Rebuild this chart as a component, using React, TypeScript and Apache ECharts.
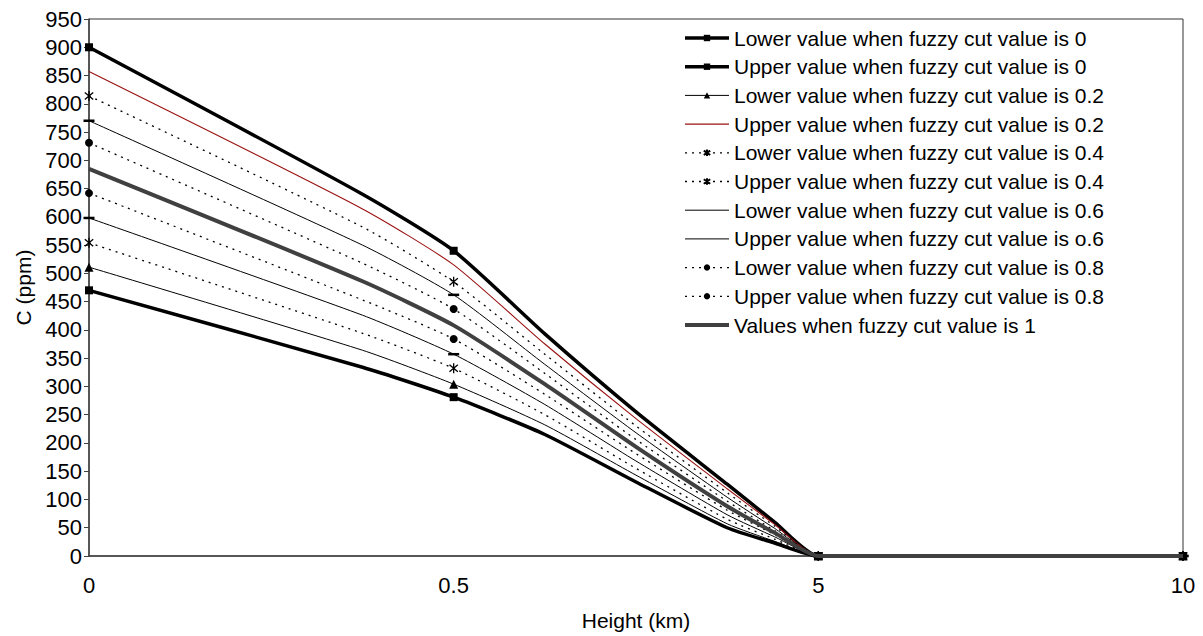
import React, { useEffect, useRef } from "react";
import * as echarts from "echarts";

// x tick labels (evenly spaced, as in the reference)
const X_LABELS = ["0", "0.5", "5", "10"];
// positions along the axis (in tick index units) where values were read
const X_POS = [0, 0.75, 1, 1.25, 1.5, 1.75, 1.88, 2, 3];
// which readings carry a marker (the real heights 0, 0.5, 5, 10)
const MARKED = [true, false, true, false, false, false, false, true, true];

const lower0 = [470, 334, 281, 215, 131, 50, 23, 0, 0];
const upper0 = [900, 640, 540, 393, 255, 127, 60, 0, 0];
const lower02 = [511, 364, 304, 232, 143, 57, 26, 0, 0];
const upper02 = [857, 614, 515, 375, 243, 119, 56, 0, 0];
const lower04 = [554, 394, 332, 250, 155, 65, 30, 0, 0];
const upper04 = [814, 582, 485, 357, 230, 112, 53, 0, 0];
const lower06 = [598, 426, 357, 268, 168, 73, 34, 0, 0];
const upper06 = [770, 550, 462, 339, 218, 104, 49, 0, 0];
const lower08 = [642, 453, 384, 286, 181, 81, 38, 0, 0];
const upper08 = [731, 518, 437, 323, 206, 97, 45, 0, 0];
const value1 = [685, 486, 408, 304, 193, 88, 41, 0, 0];

const NAMES = [
  "Lower value when fuzzy cut value is 0",
  "Upper value when fuzzy cut value is 0",
  "Lower value when fuzzy cut value is 0.2",
  "Upper value when fuzzy cut value is 0.2",
  "Lower value when fuzzy cut value is 0.4",
  "Upper value when fuzzy cut value is 0.4",
  "Lower value when fuzzy cut value is 0.6",
  "Upper value when fuzzy cut value is o.6",
  "Lower value when fuzzy cut value is 0.8",
  "Upper value when fuzzy cut value is 0.8",
  "Values when fuzzy cut value is 1",
];

const FONT = "'Liberation Sans', Arial, Helvetica, sans-serif";
const STAR = "path://M5,0 L5,10 M0.8,1.5 L9.2,8.5 M9.2,1.5 L0.8,8.5";

function buildData(vals: number[]) {
  return X_POS.map((x, i) =>
    MARKED[i] ? [x, vals[i]] : { value: [x, vals[i]], symbol: "none" }
  );
}

type Style = {
  color: string;
  width: number;
  type: any;
  symbol: string;
  size: any;
  hollow?: boolean;
  noMark?: boolean;
  legendHide?: boolean;
};

const STYLES: Style[] = [
  { color: "#000", width: 3.5, type: "solid", symbol: "rect", size: 8 },
  { color: "#000", width: 3.5, type: "solid", symbol: "rect", size: 8 },
  { color: "#000", width: 1, type: "solid", symbol: "triangle", size: 9 },
  { color: "#9a1010", width: 1.1, type: "solid", symbol: "circle", size: 0, noMark: true },
  { color: "#000", width: 1.3, type: [2, 5], symbol: STAR, size: 10, hollow: true },
  { color: "#000", width: 1.3, type: [2, 5], symbol: STAR, size: 10, hollow: true },
  { color: "#000", width: 1, type: "solid", symbol: "rect", size: [11, 2.5], legendHide: true },
  { color: "#000", width: 1, type: "solid", symbol: "rect", size: [11, 2.5], legendHide: true },
  { color: "#000", width: 1.3, type: [2, 5], symbol: "circle", size: 8 },
  { color: "#000", width: 1.3, type: [2, 5], symbol: "circle", size: 8 },
  { color: "#404040", width: 4, type: "solid", symbol: "circle", size: 0, noMark: true },
];

const SERIES_VALUES = [
  lower0, upper0, lower02, upper02, lower04, upper04,
  lower06, upper06, lower08, upper08, value1,
];

export default function App() {
  const ref = useRef<HTMLDivElement>(null);
  useEffect(() => {
    if (!ref.current) return;
    const chart = echarts.init(ref.current, null, { renderer: "svg" });
    const series = SERIES_VALUES.map((vals, k) => {
      const s = STYLES[k];
      let itemStyle: any;
      if (s.hollow) itemStyle = { color: "rgba(0,0,0,0)", borderColor: "#000", borderWidth: 1.3 };
      else if (s.noMark) itemStyle = { color: "rgba(0,0,0,0)", borderWidth: 0 };
      else itemStyle = { color: s.color, borderWidth: 0 };
      return {
        name: NAMES[k],
        type: "line",
        data: buildData(vals),
        smooth: 0.2,
        clip: false,
        symbol: s.symbol,
        symbolSize: s.size,
        symbolKeepAspect: true,
        showAllSymbol: true,
        lineStyle: { color: s.color, width: s.width, type: s.type },
        itemStyle,
        emphasis: { disabled: true },
        z: k === 10 ? 3 : 2,
      };
    });
    const legendData = NAMES.map((n, k) =>
      STYLES[k].legendHide
        ? { name: n, itemStyle: { color: "rgba(0,0,0,0)" } }
        : { name: n }
    );
    chart.setOption({
      animation: false,
      backgroundColor: "#fff",
      textStyle: { fontFamily: FONT, color: "#000" },
      grid: {
        left: 89,
        right: 20,
        top: 19,
        bottom: 80,
        show: true,
        borderColor: "#333",
        borderWidth: 1,
        backgroundColor: "transparent",
      },
      legend: {
        orient: "vertical",
        left: 683,
        top: 27.5,
        padding: 0,
        itemWidth: 44,
        itemHeight: 8,
        itemGap: 7.7,
        data: legendData,
        lineStyle: { width: "inherit" },
        textStyle: {
          fontFamily: FONT,
          fontSize: 21,
          lineHeight: 21,
          color: "#000",
        },
        selectedMode: false,
      },
      xAxis: {
        type: "value",
        min: 0,
        max: 3,
        interval: 1,
        name: "Height (km)",
        nameLocation: "middle",
        nameGap: 54,
        nameTextStyle: { fontFamily: FONT, fontSize: 21, color: "#000" },
        axisLine: { show: true, lineStyle: { color: "#404040", width: 1.5 } },
        axisTick: { show: false },
        splitLine: { show: false },
        axisLabel: {
          fontFamily: FONT,
          fontSize: 22,
          color: "#000",
          margin: 18,
          formatter: (v: number) => X_LABELS[Math.round(v)] ?? "",
        },
      },
      yAxis: {
        type: "value",
        min: 0,
        max: 950,
        interval: 50,
        name: "C (ppm)",
        nameLocation: "middle",
        nameGap: 45,
        nameTextStyle: { fontFamily: FONT, fontSize: 21, color: "#000" },
        axisLine: { show: true, lineStyle: { color: "#404040", width: 1.5 } },
        axisTick: { show: true, inside: false, length: 5, lineStyle: { color: "#404040" } },
        splitLine: { show: false },
        axisLabel: { fontFamily: FONT, fontSize: 22, color: "#000", margin: 7 },
      },
      series,
    });
    return () => chart.dispose();
  }, []);
  return (
    <div
      ref={ref}
      style={{ position: "fixed", left: 0, top: 0, width: 1203, height: 636 }}
    />
  );
}
